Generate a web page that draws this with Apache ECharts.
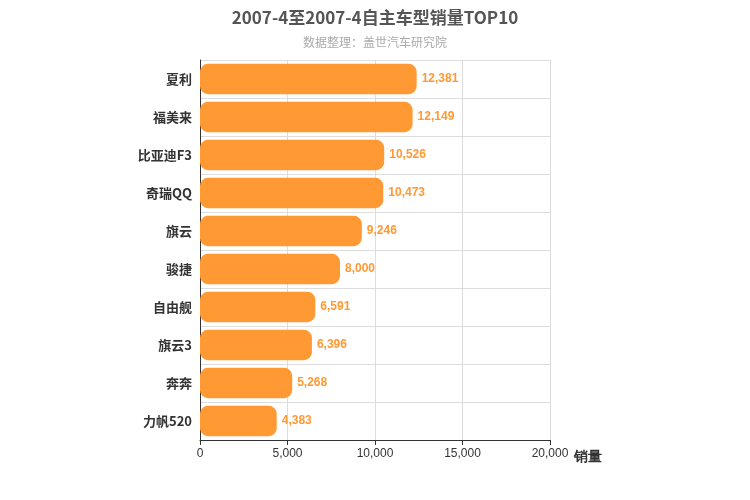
<!DOCTYPE html>
<html><head><meta charset="utf-8">
<script src="https://cdn.jsdelivr.net/npm/echarts@6/dist/echarts.min.js"></script>
<style>html,body{margin:0;padding:0;background:#fff}#c{width:750px;height:500px}</style>
</head><body><div id="c"></div>
<script>
const categories = ['夏利','福美来','比亚迪F3','奇瑞QQ','旗云','骏捷','自由舰','旗云3','奔奔','力帆520'];
const sales = [12381,12149,10526,10473,9246,8000,6591,6396,5268,4383];
const xTicks = [0,5000,10000,15000,20000];
const chart = echarts.init(document.getElementById('c'));
chart.setOption({
  animation:false,
  title:{text:'2007-4至2007-4自主车型销量TOP10',subtext:'数据整理：盖世汽车研究院',left:'center',top:4,
    textStyle:{fontSize:17,fontWeight:'bold',color:'#555',fontFamily:'Noto Sans CJK SC'},
    subtextStyle:{fontSize:12,color:'#aaa',fontFamily:'Noto Sans CJK SC'},itemGap:10},
  grid:{left:200,right:200,top:60,bottom:60},
  xAxis:{type:'value',min:xTicks[0],max:xTicks[xTicks.length-1],interval:5000,name:'销量',
    nameLocation:'end',nameGap:15,nameTextStyle:{fontSize:14,fontWeight:'bold',color:'#333',verticalAlign:'top',padding:[10,0,0,0]},
    axisLine:{show:true,lineStyle:{color:'#333'}},axisTick:{show:true},
    axisLabel:{color:'#333',fontSize:12,formatter:v=>v.toLocaleString('en-US')},
    splitLine:{lineStyle:{color:'#ddd'}}},
  yAxis:{type:'category',data:categories,inverse:true,
    axisLine:{show:true,lineStyle:{color:'#333'}},axisTick:{show:false},
    axisLabel:{color:'#333',fontSize:13,fontWeight:'bold',fontFamily:'Noto Sans CJK SC'},
    splitLine:{show:true,lineStyle:{color:'#ddd'}}},
  series:[{type:'bar',data:sales,barWidth:'80%',
    itemStyle:{color:'#ff9933',borderRadius:8},
    label:{show:true,position:'right',color:'#ff9933',fontSize:12,fontWeight:'bold',
      formatter:p=>p.value.toLocaleString('en-US')}}]
});
</script></body></html>
